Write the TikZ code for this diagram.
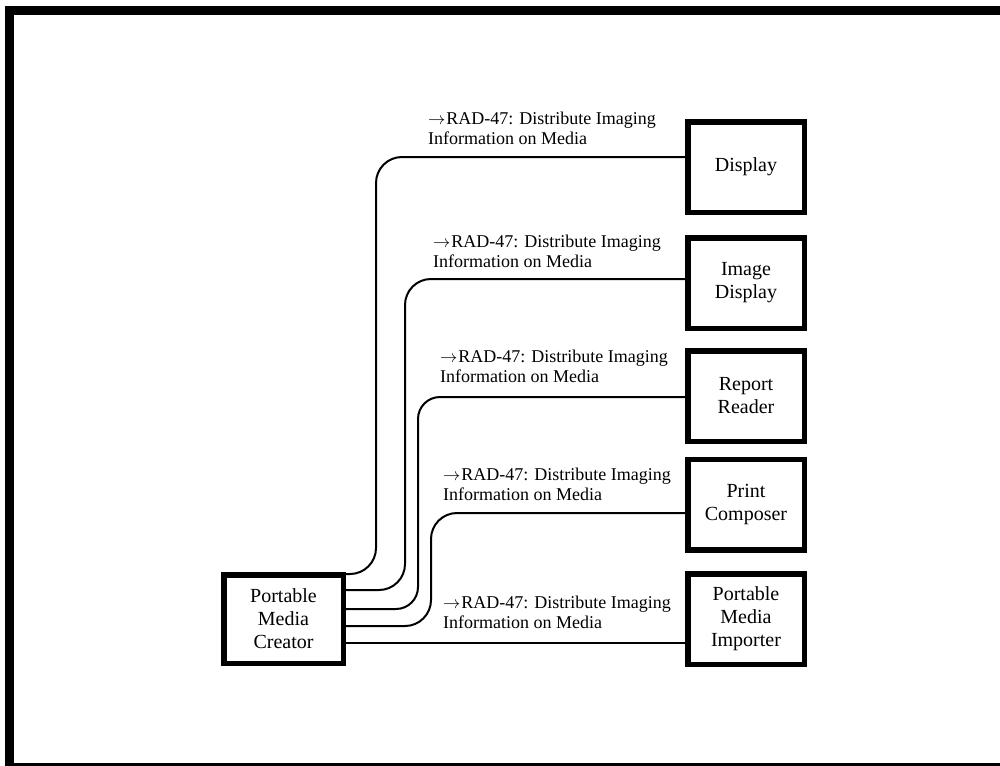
\documentclass[tikz,border=0pt]{standalone}
\usepackage{fontspec}
\setmainfont{Liberation Serif}
\begin{document}
\begin{tikzpicture}[x=1pt,y=-1pt,
  actor/.style={draw,line width=5.5pt,minimum width=116.5pt,minimum height=90.5pt,
    inner sep=0pt,align=center,font=\fontsize{20}{23}\selectfont},
  conn/.style={line width=2pt,rounded corners=26pt},
  tlabel/.style={anchor=base west,inner sep=0pt,font=\fontsize{18}{20}\selectfont}]
\useasboundingbox (0,0) rectangle (1000,765);
\draw[line width=9pt] (9.5,10.5) rectangle (1010,767);
% actors
\node[actor] (disp) at (746,167) {Display};
\node[actor] (imgd) at (746,283) {Image\\Display};
\node[actor] (rep) at (746,396) {Report\\Reader};
\node[actor] (prn) at (746,504.5) {Print\\Composer};
\node[actor] (imp) at (746,619) {Portable\\Media\\Importer};
\node[actor,minimum width=119.5pt,minimum height=88.5pt] (pmc) at (283.5,619) {Portable\\Media\\Creator};
% connectors
\draw[conn] (pmc.east |- 0,574) -- (376,574) -- (376,157) -- (disp.west |- 0,157);
\draw[conn] (pmc.east |- 0,590) -- (405,590) -- (405,279) -- (imgd.west |- 0,279);
\draw[conn,rounded corners=22pt] (pmc.east |- 0,609) -- (418,609) -- (418,397) -- (rep.west |- 0,397);
\draw[conn] (pmc.east |- 0,626) -- (431,626) -- (431,513) -- (prn.west |- 0,513);
\draw[conn] (pmc.east |- 0,642.5) -- (imp.west |- 0,642.5);
% labels
\newcommand{\radlabel}{\begin{tabular}[b]{@{}l@{}}$\rightarrow$\kern1ptRAD-47: Distribute Imaging\\Information on Media\end{tabular}}
\node[tlabel] (l1) at (428,144) {\radlabel};
\node[tlabel] (l2) at (433,267) {\radlabel};
\node[tlabel] (l3) at (440,382) {\radlabel};
\node[tlabel] (l4) at (443,500) {\radlabel};
\node[tlabel] (l5) at (443,628) {\radlabel};
\end{tikzpicture}
\end{document}
